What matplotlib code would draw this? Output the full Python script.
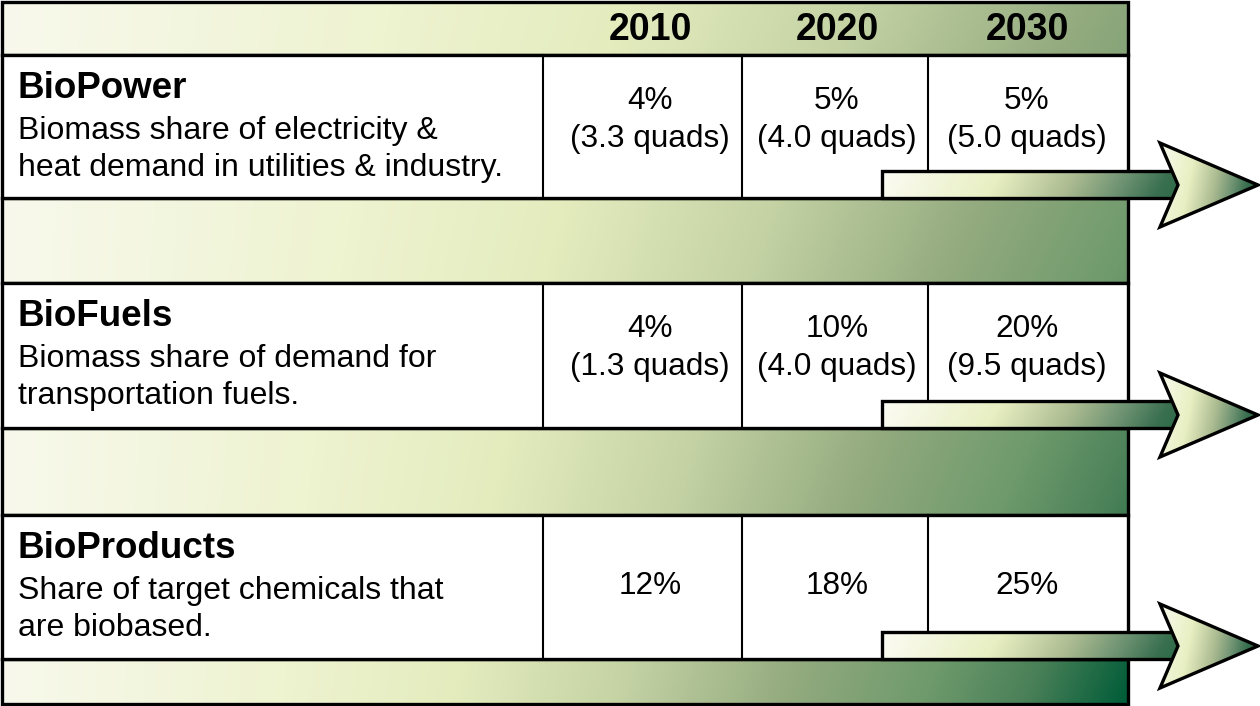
import numpy as np
import matplotlib
matplotlib.use('Agg')
import matplotlib.pyplot as plt
from matplotlib.patches import Rectangle, Polygon
from matplotlib.colors import LinearSegmentedColormap

plt.rcParams['font.family'] = ['Liberation Sans', 'DejaVu Sans']

# table content
years = ['2010', '2020', '2030']
sectors = ['BioPower', 'BioFuels', 'BioProducts']
descriptions = [
    ['Biomass share of electricity &', 'heat demand in utilities & industry.'],
    ['Biomass share of demand for', 'transportation fuels.'],
    ['Share of target chemicals that', 'are biobased.'],
]
shares = [['4%', '5%', '5%'], ['4%', '10%', '20%'], ['12%', '18%', '25%']]
quads = [['3.3', '4.0', '5.0'], ['1.3', '4.0', '9.5'], [None, None, None]]

# layout in pixels
W, H = 1260, 706
left, right = 2, 1128
col_x = [543, 742, 928]
text_x = [650, 837, 1027]
header = (2, 55)
row_tops = [55, 283, 515]
row_bots = [198, 428, 659]
bands = [(198, 283), (428, 515), (659, 704)]

band_cmap = LinearSegmentedColormap.from_list('band', [
    (0.0, '#f8f9ec'), (0.25, '#eef3d0'), (0.4, '#e4ecbe'), (0.55, '#c4d2a4'),
    (0.7, '#92aa7e'), (0.82, '#6e9a6c'), (0.91, '#4a8058'), (1.0, '#005c38')])
arrow_cmap = LinearSegmentedColormap.from_list('arrow', [
    (0.0, '#fcfcf4'), (0.38, '#e8efc2'), (0.62, '#adbc92'),
    (0.8, '#6a9070'), (0.92, '#3a7050'), (1.0, '#2c6b48')])

fig = plt.figure(figsize=(12.6, 7.06), dpi=100)
ax = fig.add_axes([0, 0, 1, 1])
ax.set_xlim(0, W)
ax.set_ylim(H, 0)
ax.axis('off')

X, Y = np.meshgrid(np.linspace(0, W, 630), np.linspace(0, H, 353))
T = np.clip((X / right) * (0.72 + 0.28 * Y / 704), 0, 1)


def grad_rect(x0, y0, x1, y1, lw=2.4):
    r = Rectangle((x0, y0), x1 - x0, y1 - y0, facecolor='none',
                  edgecolor='black', lw=lw, zorder=3)
    ax.add_patch(r)
    im = ax.imshow(T, cmap=band_cmap, vmin=0, vmax=1, extent=(0, W, H, 0),
                   aspect='auto', zorder=1, interpolation='bilinear')
    im.set_clip_path(r)


# header and bands
grad_rect(left, header[0], right, header[1])
for y0, y1 in bands:
    grad_rect(left, y0, right, y1)

for j, yr in enumerate(years):
    ax.text(text_x[j], 30, yr, ha='center', va='center', fontsize=27,
            fontweight='bold', zorder=5)

# white rows
for i in range(3):
    top, bot = row_tops[i], row_bots[i]
    ax.add_patch(Rectangle((left, top), right - left, bot - top,
                           facecolor='white', edgecolor='black', lw=2.4, zorder=3))
    for cx in col_x:
        ax.plot([cx, cx], [top, bot], color='black', lw=1.5, zorder=3)
    ax.text(18, top + 34, sectors[i], ha='left', va='center', fontsize=26.5,
            fontweight='bold', zorder=5)
    for k, line in enumerate(descriptions[i]):
        ax.text(18, top + 76 + 37 * k, line, ha='left', va='center',
                fontsize=23, zorder=5)
    for j in range(3):
        if quads[i][j] is None:
            ax.text(text_x[j], top + 71, shares[i][j], ha='center',
                    va='center', fontsize=22.7, zorder=5)
        else:
            ax.text(text_x[j], top + 46, shares[i][j], ha='center',
                    va='center', fontsize=22.7, zorder=5)
            ax.text(text_x[j], top + 84, '(%s quads)' % quads[i][j],
                    ha='center', va='center', fontsize=22.7, zorder=5)

    # arrow
    c = bot - 13
    sx0, sx1 = 882, 1180
    shaft = Rectangle((sx0, bot - 27), sx1 - sx0, 27, facecolor='none',
                      edgecolor='black', lw=2.4, zorder=7)
    ax.add_patch(shaft)
    gx, gy = np.meshgrid(np.linspace(0, 1, 200), np.linspace(0, 1, 20))
    im = ax.imshow(np.clip(0.95 * gx + 0.05 * gy, 0, 1), cmap=arrow_cmap,
                   vmin=0, vmax=1, extent=(sx0, sx1, bot, bot - 27),
                   aspect='auto', zorder=6)
    im.set_clip_path(shaft)
    hx0, tip = 1160, 1258
    head = Polygon([(hx0, c - 42), (tip, c), (hx0, c + 42), (1178, c)],
                   closed=True, facecolor='none', edgecolor='black', lw=2.4,
                   joinstyle='miter', zorder=9)
    ax.add_patch(head)
    hx, hy = np.meshgrid(np.linspace(0, 1, 100), np.linspace(0, 1, 100))
    im = ax.imshow(np.clip(0.12 + 0.9 * hx + 0.15 * (hy - 0.5), 0, 1),
                   cmap=arrow_cmap, vmin=0, vmax=1,
                   extent=(hx0, tip, c + 42, c - 42),
                   aspect='auto', zorder=8)
    im.set_clip_path(head)

fig.savefig('out.png', dpi=100)
